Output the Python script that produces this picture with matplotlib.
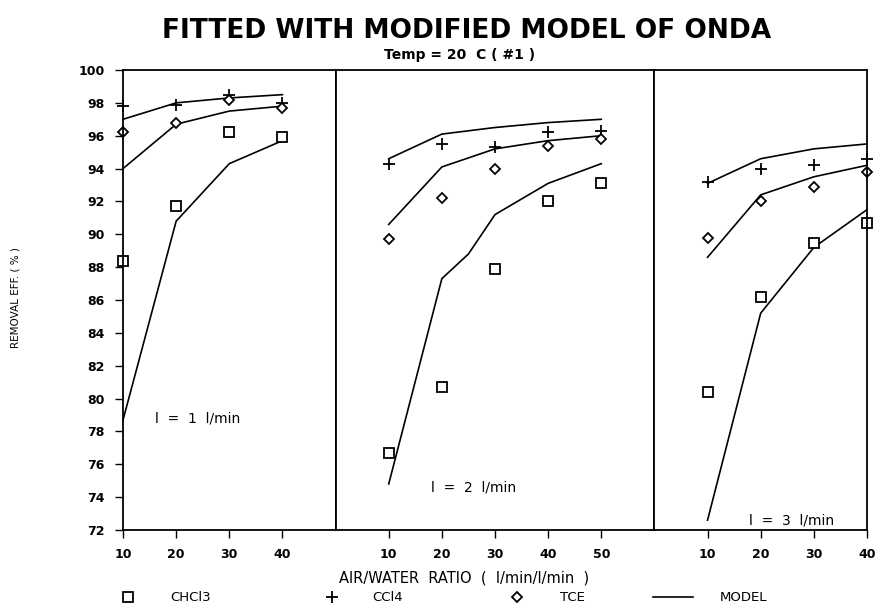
import matplotlib.pyplot as plt
from matplotlib.lines import Line2D

plt.rcParams['font.family'] = ['DejaVu Sans']

# air/water ratio for each column-flow panel
ratio_1 = [10, 20, 30, 40]
ratio_2 = [10, 20, 30, 40, 50]
ratio_2_model_chcl3 = [10, 20, 25, 30, 40, 50]
ratio_3 = [10, 20, 30, 40]

# measured removal efficiencies (%)
chcl3_1 = [88.4, 91.7, 96.2, 95.9]
ccl4_1 = [97.8, 97.9, 98.5, 98.0]
tce_1 = [96.2, 96.8, 98.2, 97.7]
chcl3_2 = [76.7, 80.7, 87.9, 92.0, 93.1]
ccl4_2 = [94.3, 95.5, 95.3, 96.2, 96.3]
tce_2 = [89.7, 92.2, 94.0, 95.4, 95.8]
chcl3_3 = [80.4, 86.2, 89.5, 90.7]
ccl4_3 = [93.2, 94.0, 94.2, 94.6]
tce_3 = [89.8, 92.0, 92.9, 93.8]

# model curves
model_chcl3_1 = [78.7, 90.8, 94.3, 95.7]
model_ccl4_1 = [97.0, 98.0, 98.3, 98.5]
model_tce_1 = [94.0, 96.7, 97.5, 97.8]
model_chcl3_2 = [74.8, 87.3, 88.8, 91.2, 93.1, 94.3]
model_ccl4_2 = [94.6, 96.1, 96.5, 96.8, 97.0]
model_tce_2 = [90.6, 94.1, 95.2, 95.7, 96.0]
model_chcl3_3 = [72.6, 85.2, 89.2, 91.5]
model_ccl4_3 = [93.1, 94.6, 95.2, 95.5]
model_tce_3 = [88.6, 92.4, 93.5, 94.2]

panel_labels = ['l  =  1  l/min', 'l  =  2  l/min', 'l  =  3  l/min']
yticks = list(range(72, 101, 2))

fig = plt.figure(figsize=(8.8, 6.12), dpi=100)
gs = fig.add_gridspec(1, 3, width_ratios=[40, 60, 40], wspace=0,
                      left=0.1398, right=0.9852, bottom=0.134, top=0.8856)
ax1 = fig.add_subplot(gs[0])
ax2 = fig.add_subplot(gs[1], sharey=ax1)
ax3 = fig.add_subplot(gs[2], sharey=ax1)

panels = [
    (ax1, ratio_1, chcl3_1, ccl4_1, tce_1, ratio_1, model_chcl3_1, model_ccl4_1, model_tce_1, (10, 50), [10, 20, 30, 40], (16, 78.8)),
    (ax2, ratio_2, chcl3_2, ccl4_2, tce_2, ratio_2_model_chcl3, model_chcl3_2, model_ccl4_2, model_tce_2, (0, 60), [10, 20, 30, 40, 50], (18, 74.6)),
    (ax3, ratio_3, chcl3_3, ccl4_3, tce_3, ratio_3, model_chcl3_3, model_ccl4_3, model_tce_3, (0, 40), [10, 20, 30, 40], (17.8, 72.6)),
]

for i, (ax, x, c1, c2, c3, xm, m1, m2, m3, xl, xt, txt) in enumerate(panels):
    ax.plot(xm, m1, color='black', lw=1.2, clip_on=False)
    ax.plot(x, m2, color='black', lw=1.2, clip_on=False)
    ax.plot(x, m3, color='black', lw=1.2, clip_on=False)
    ax.plot(x, c1, ls='none', marker='s', ms=7, mfc='white', mec='black', mew=1.3, clip_on=False)
    ax.plot(x, c2, ls='none', marker='+', ms=8, mec='black', mew=1.3, clip_on=False)
    ax.plot(x, c3, ls='none', marker='D', ms=5, mfc='white', mec='black', mew=1.3, clip_on=False)
    ax.set_xlim(*xl)
    ax.set_ylim(72, 100)
    ax.set_xticks(xt)
    ax.tick_params(axis='x', direction='out', length=6, width=1, labelsize=9, pad=7)
    for lab in ax.get_xticklabels():
        lab.set_fontweight('bold')
    ax.text(txt[0], txt[1], panel_labels[i], fontsize=10, va='center', ha='left')
    for sp in ax.spines.values():
        sp.set_linewidth(1.3)
    if i > 0:
        ax.tick_params(axis='y', left=False, labelleft=False)

ax1.set_yticks(yticks)
ax1.tick_params(axis='y', direction='out', length=6, width=1, labelsize=9, pad=7)
for lab in ax1.get_yticklabels():
    lab.set_fontweight('bold')

fig.text(0.530, 0.949, 'FITTED WITH MODIFIED MODEL OF ONDA', ha='center', va='center',
         fontsize=19, fontweight='bold')
fig.text(0.522, 0.910, 'Temp = 20  C ( #1 )', ha='center', va='center', fontsize=10, fontweight='bold')
fig.text(0.527, 0.056, 'AIR/WATER  RATIO  (  l/min/l/min  )', ha='center', va='center', fontsize=10.5)
fig.text(0.018, 0.513, 'REMOVAL EFF. ( % )', ha='center', va='center', rotation=90, fontsize=7.5)

# legend row along the bottom
entries = [
    (Line2D([], [], ls='none', marker='s', ms=7, mfc='white', mec='black', mew=1.3), 'CHCl3', 0.138, 1.0, 2.68),
    (Line2D([], [], ls='none', marker='+', ms=8, mec='black', mew=1.3), 'CCl4', 0.370, 1.0, 2.53),
    (Line2D([], [], ls='none', marker='D', ms=5, mfc='white', mec='black', mew=1.3), 'TCE', 0.580, 1.0, 2.76),
    (Line2D([], [], color='black', lw=1.2), 'MODEL', 0.742, 3.03, 2.05),
]
for h, lab, xpos, hl, tp in entries:
    fig.legend([h], [lab], loc='center left', bbox_to_anchor=(xpos, 0.023), frameon=False,
               fontsize=9.5, borderpad=0, borderaxespad=0, handlelength=hl, handletextpad=tp)

fig.savefig('out.png', dpi=100)
